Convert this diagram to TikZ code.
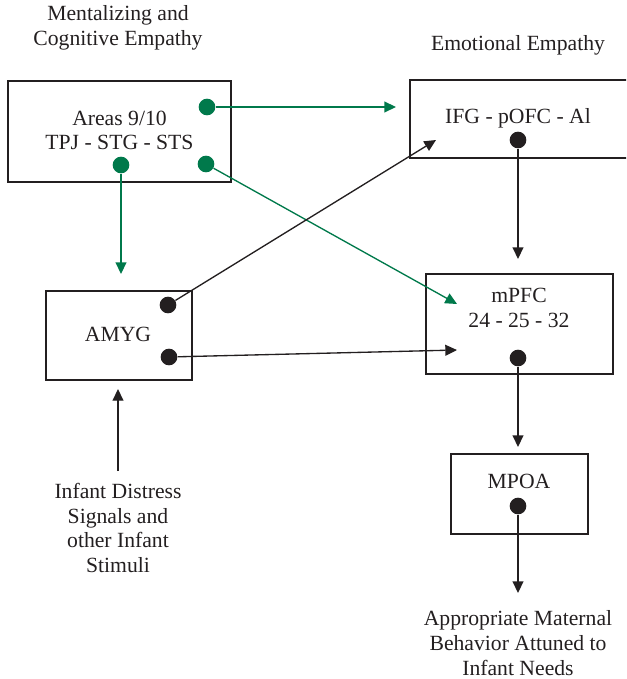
\documentclass[tikz,border=0pt]{standalone}
\usepackage{fontspec}
\setmainfont{Liberation Serif}
\usetikzlibrary{arrows.meta}
\definecolor{vert}{RGB}{0,121,75}
\definecolor{encre}{RGB}{35,31,32}
\tikzset{
  boite/.style args={#1x#2}{draw=encre,line width=0.9pt,
    minimum width=#1*0.6pt,minimum height=#2*0.6pt,inner sep=0pt},
  texte/.style={align=center,text=encre,inner sep=0pt,
    font=\fontsize{13}{14.8}\selectfont},
  point/.style={circle,fill=#1,inner sep=0pt,minimum size=10pt},
  point/.default=encre,
  fleche/.style={-{Triangle[length=7pt,width=6.5pt]},line width=0.8pt,draw=#1},
  fleche/.default=encre,
}

\begin{document}
\begin{tikzpicture}[x=0.6pt,y=-0.6pt]
\useasboundingbox (0,0) rectangle (626,679);
\clip (0,0) rectangle (626,679);% la boite IFG sort a droite

% titres
\node[texte] (mental) at (118,28) {Mentalizing and\\Cognitive Empathy};
\node[texte] (emot) at (518,45) {Emotional Empathy};

% les boites
\node[boite=223x101] (aires) at (119.5,131.5) {};
\node[texte] at (119.5,130.5) {Areas 9/10\\TPJ - STG - STS};
\node[boite=240x78] (ifg) at (530,119) {};
\node[texte] at (518,118) {IFG - pOFC - Al};
\node[boite=146x89] (amyg) at (119,335.5) {};
\node[texte] at (118,334) {AMYG};
\node[boite=187x100] (mpfc) at (519.5,324) {};
\node[texte] at (519,308) {mPFC\\24 - 25 - 32};
\node[boite=137x80] (mpoa) at (519.5,494) {};
\node[texte] at (519,481) {MPOA};

% textes libres
\node[texte] (stim) at (118,528) {Infant Distress\\Signals and\\other Infant\\Stimuli};
\node[texte] (besoin) at (518,643) {Appropriate Maternal\\Behavior Attuned to\\Infant Needs};

% points de depart
\node[point=vert] (a1) at (207,107) {};
\node[point=vert] (a2) at (121,165) {};
\node[point=vert] (a3) at (206,164) {};
\node[point] (i1) at (518,140) {};
\node[point] (m1) at (168,305) {};
\node[point] (m2) at (169,357) {};
\node[point] (p1) at (518,358) {};
\node[point] (o1) at (518,506) {};

% bouts des fleches
\coordinate (ifg-g) at (396,107);
\coordinate (ifg-n) at (436,140);
\coordinate (amyg-h) at (121,274);
\coordinate (amyg-b) at (118,389);
\coordinate (mpfc-g) at (457,304);
\coordinate (mpfc-n) at (457,350);
\coordinate (mpfc-h) at (518,259);
\coordinate (mpoa-h) at (518,447);
\coordinate (besoin-h) at (518,593);
\coordinate (stim-h) at (118,471);

% fleches vertes
\draw[fleche=vert] (a1) -- (ifg-g);
\draw[fleche=vert] (a2) -- (amyg-h);
\draw[fleche=vert] (a3) -- (mpfc-g);

% fleches noires
\draw[fleche] (m1) -- (ifg-n);
\draw[fleche] (m2) -- (mpfc-n);
\draw[fleche] (i1) -- (mpfc-h);
\draw[fleche] (p1) -- (mpoa-h);
\draw[fleche] (o1) -- (besoin-h);
\draw[fleche] (stim-h) -- (amyg-b);
\end{tikzpicture}
\end{document}
